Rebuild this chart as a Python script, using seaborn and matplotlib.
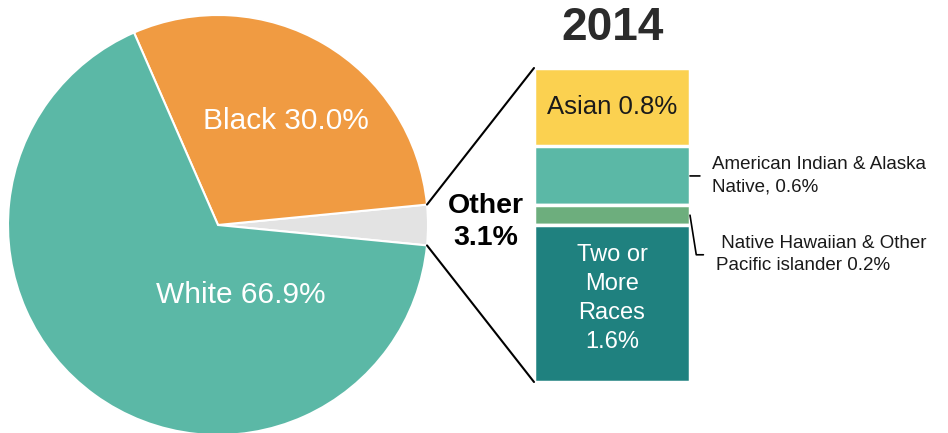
import matplotlib
matplotlib.use("Agg")
import numpy as np
import matplotlib.pyplot as plt
import seaborn as sns
from matplotlib.patches import ConnectionPatch

# pie data (counterclockwise from the "Other" slice)
pie_labels = ["Other", "Black", "White"]
pie_values = [3.1, 30.0, 66.9]
pie_colors = ["#E3E3E3", "#F09B42", "#5BB8A6"]

# breakdown of "Other", top to bottom
other_labels = ["Asian", "American Indian & Alaska Native",
                "Native Hawaiian & Other Pacific islander", "Two or More Races"]
other_values = [0.8, 0.6, 0.2, 1.6]
other_colors = ["#FBD150", "#5BB8A6", "#6DAE7D", "#1F817F"]

year = "2014"

sns.set_theme(style="white")
plt.rcParams["font.family"] = ["Liberation Sans", "DejaVu Sans"]

W, H = 948, 433
fig = plt.figure(figsize=(W / 100, H / 100), dpi=100)

# pie axes: centre (218, 225) px, radius 210 px
cx, cy, r = 218, 225, 210
ax_pie = fig.add_axes([(cx - r) / W, (H - cy - r) / H, 2 * r / W, 2 * r / H])
start = -pie_values[0] / 100 * 360 / 2
wedges, _ = ax_pie.pie(pie_values, colors=pie_colors, startangle=start,
                       counterclock=True,
                       wedgeprops=dict(edgecolor="white", linewidth=1.5))
ax_pie.set_xlim(-1, 1)
ax_pie.set_ylim(-1, 1)
ax_pie.set_aspect("equal")
ax_pie.axis("off")

ax_pie.text(0.324, 0.495, f"{pie_labels[1]} {pie_values[1]:.1f}%", color="white",
            fontsize=21.5, ha="center", va="center")
ax_pie.text(0.11, -0.333, f"{pie_labels[2]} {pie_values[2]:.1f}%", color="white",
            fontsize=21.5, ha="center", va="center")

# stacked bar for the "Other" breakdown
ax_bar = fig.add_axes([534 / W, 51 / H, 156 / W, 314 / H])
total = sum(other_values)
bottom = total
for lab, val, col in zip(other_labels, other_values, other_colors):
    bottom -= val
    ax_bar.bar(0, val, bottom=bottom, width=1, color=col,
               edgecolor="white", linewidth=2.5)
ax_bar.set_xlim(-0.5, 0.5)
ax_bar.set_ylim(0, total)
ax_bar.axis("off")

tops = [total - sum(other_values[:i]) for i in range(len(other_values))]
mids = [t - v / 2 for t, v in zip(tops, other_values)]

ax_bar.text(0, mids[0], f"{other_labels[0]} {other_values[0]}%", fontsize=18.5,
            ha="center", va="center", color="#1a1a1a")
ax_bar.text(0, mids[3] + 0.05, f"Two or\nMore\nRaces\n{other_values[3]}%", fontsize=17,
            ha="center", va="center", color="white", linespacing=1.42)

ax_bar.annotate(f"American Indian & Alaska\nNative, {other_values[1]}%",
                xy=(0.5, mids[1]), xytext=(16, 0), textcoords="offset points",
                fontsize=13.5, ha="left", va="center", color="#1a1a1a",
                linespacing=1.4,
                arrowprops=dict(arrowstyle="-", color="black", lw=1.2,
                                shrinkA=6.5, shrinkB=0))
ax_bar.annotate(f" Native Hawaiian & Other\nPacific islander {other_values[2]}%",
                xy=(0.5, mids[2]), xytext=(18.5, -28.5), textcoords="offset points",
                fontsize=13.5, ha="left", va="center", color="#1a1a1a",
                linespacing=1.4,
                arrowprops=dict(arrowstyle="-", color="black", lw=1.2,
                                shrinkA=6.5, shrinkB=0,
                                connectionstyle="angle,angleA=0,angleB=-81,rad=0"))

# connector lines from the grey slice to the bar
w = wedges[0]
for ang, yb in [(w.theta2, total), (w.theta1, 0)]:
    p = (np.cos(np.radians(ang)), np.sin(np.radians(ang)))
    con = ConnectionPatch(xyA=p, coordsA=ax_pie.transData,
                          xyB=(-0.5, yb), coordsB=ax_bar.transData,
                          color="black", lw=1.5)
    fig.add_artist(con)

fig.text(486 / W, 1 - 222 / H, f"{pie_labels[0]}\n{pie_values[0]}%",
         fontsize=20.5, fontweight="bold", ha="center", va="center",
         color="black", linespacing=1.3)
fig.text(613 / W, 1 - 28 / H, year, fontsize=33, fontweight="bold",
         ha="center", va="center", color="#2b2b2b")

fig.savefig("out.png", dpi=100)
